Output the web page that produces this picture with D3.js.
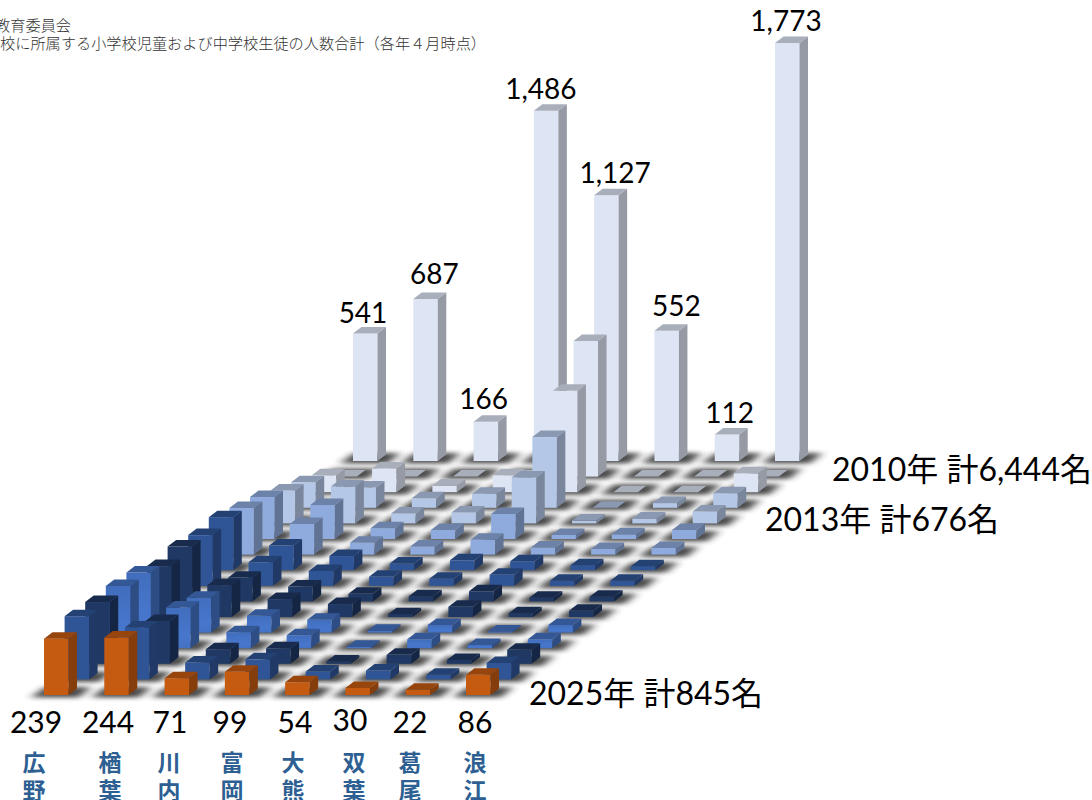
<!DOCTYPE html>
<html>
<head>
<meta charset="utf-8">
<script src="https://cdn.jsdelivr.net/npm/d3@7"></script>
<style>
    html, body { margin: 0; padding: 0; background: #fff; overflow: hidden; }
    svg { display: block; font-family: Lato, "Noto Sans CJK JP", sans-serif; }
</style>
</head>
<body>
<svg id="chart" width="1092" height="800"></svg>
<script>
// towns (columns) and years (rows, back to front)
const towns = ["広野", "楢葉", "川内", "富岡", "大熊", "双葉", "葛尾", "浪江"];
const years = [2010, 2011, 2012, 2013, 2014, 2015, 2016, 2017, 2018, 2019, 2020, 2021, 2022, 2023, 2024, 2025];

const y2010 = [541, 687, 166, 1486, 1127, 552, 112, 1773];
const y2011 = [0, 0, 0, 0, 575, 0, 0, 0];
const y2012 = [72, 100, 28, 72, 430, 0, 0, 80];
const y2013 = [108, 86, 40, 60, 300, 0, 20, 62];
const y2014 = [140, 156, 42, 46, 195, 12, 21, 50];
const y2015 = [178, 144, 46, 38, 106, 17, 20, 38];
const y2016 = [198, 130, 50, 34, 63, 30, 24, 28];
const y2017 = [225, 105, 60, 28, 42, 38, 21, 17];
const y2018 = [215, 100, 63, 38, 30, 47, 21, 21];
const y2019 = [233, 100, 63, 32, 22, 43, 16, 20];
const y2020 = [216, 135, 76, 55, 12, 44, 16, 26];
const y2021 = [255, 148, 72, 55, 8, 32, 5, 32];
const y2022 = [264, 173, 68, 55, 6, 38, 14, 38];
const y2023 = [262, 182, 62, 66, 10, 38, 16, 60];
const y2024 = [268, 220, 72, 85, 34, 38, 20, 70];
const y2025 = [239, 244, 71, 99, 54, 30, 22, 86];

const series = [y2010, y2011, y2012, y2013, y2014, y2015, y2016, y2017,
                y2018, y2019, y2020, y2021, y2022, y2023, y2024, y2025];

const rowColors = ["#DDE4F4", "#DDE4F4", "#DDE4F4", "#B4C7E7", "#B4C7E7", "#8FAADC", "#8FAADC", "#2F5597",
                   "#2F5597", "#1F3864", "#1F3864", "#4472C4", "#4472C4", "#1F3864", "#2F5597", "#C55A11"];

const totalLabels = [
    { year: 2010, text: "2010年 計6,444名", x: 832, y: 470 },
    { year: 2013, text: "2013年 計676名", x: 765, y: 520 },
    { year: 2025, text: "2025年 計845名", x: 529, y: 694 }
];

// hand placed label positions in the original
const backLabelDx = [10, 21, 10, 7, 21, 22, 15, 11];
const backLabelDy = [2, -3, -1, 0, 0, -3, 0, 0];
const frontLabelX = [36, 108, 170, 230, 295, 350, 410, 475];
const frontLabelDy = [0, 0, 0, 0, 0, -2, 0, 0];
const nameLabelX = [34, 110, 169, 232, 293, 354, 410, 475];

const svg = d3.select("#chart");

// projection of the oblique 3D view
const colX = d3.scaleLinear().domain([0, 7]).range([353, 775]);
const rowShift = d3.scaleLinear().domain([0, 15]).range([0, -309]);
const rowY = d3.scaleLinear().domain([0, 15]).range([461, 695]);
const barH = d3.scaleLinear().domain([0, 1773]).range([0, 418]);

const barW = 24.5, depthX = 8.5, depthY = 6.5;

const defs = svg.append("defs");
defs.append("filter")
    .attr("id", "soft")
    .attr("x", "-40%").attr("y", "-120%")
    .attr("width", "180%").attr("height", "340%")
    .append("feGaussianBlur")
    .attr("stdDeviation", "5 2.2");

// only the bright blue rows have a visible gradient on the front
const bright = d3.rgb("#4472C4");
const grad = defs.append("linearGradient")
    .attr("id", "front-bright")
    .attr("x1", 0).attr("y1", 0).attr("x2", 0).attr("y2", 1);
grad.append("stop").attr("offset", "0%").attr("stop-color", bright.darker(0.12).formatHex());
grad.append("stop").attr("offset", "70%").attr("stop-color", bright.brighter(0.12).formatHex());
grad.append("stop").attr("offset", "100%").attr("stop-color", bright.formatHex());

const poly = pts => "M" + pts.map(p => p.join(",")).join("L") + "Z";

// back rows first so the front ones cover them
const rows = svg.append("g");
series.forEach((values, r) => {
    const g = rows.append("g").attr("class", "row-" + years[r]);
    const base = d3.rgb(rowColors[r]);
    const frontFill = rowColors[r] === "#4472C4" ? "url(#front-bright)" : base.formatHex();
    const topFill = base.darker(0.75).formatHex();
    const sideFill = base.darker(1.1).formatHex();

    values.forEach((v, c) => {
        const x = colX(c) + rowShift(r);
        const y = rowY(r);
        const h = barH(v);

        // soft shadow lying on the floor
        g.append("path")
            .attr("d", poly([[x - 13, y + 2.5], [x + 35, y + 2.5], [x + 47, y - 8], [x + 1, y - 8]]))
            .attr("fill", "#2a2a2a")
            .attr("opacity", 0.85)
            .attr("filter", "url(#soft)");

        if (h > 0) {
            g.append("rect")
                .attr("x", x).attr("y", y - h)
                .attr("width", barW).attr("height", h)
                .attr("fill", frontFill);
            g.append("path")
                .attr("d", poly([[x + barW, y - h], [x + barW + depthX, y - h - depthY], [x + barW + depthX, y - depthY], [x + barW, y]]))
                .attr("fill", sideFill);
        }
        g.append("path")
            .attr("d", poly([[x, y - h], [x + barW, y - h], [x + barW + depthX, y - h - depthY], [x + depthX, y - h - depthY]]))
            .attr("fill", topFill);
    });
});

// values over the 2010 row
svg.append("g").selectAll("text")
    .data(y2010)
    .join("text")
    .attr("x", (d, i) => colX(i) + backLabelDx[i])
    .attr("y", (d, i) => rowY(0) - barH(d) - 12 + backLabelDy[i])
    .attr("text-anchor", "middle")
    .attr("font-size", 28)
    .attr("fill", "#000")
    .text(d => d3.format(",")(d));

// values under the 2025 row
svg.append("g").selectAll("text")
    .data(y2025)
    .join("text")
    .attr("x", (d, i) => frontLabelX[i])
    .attr("y", (d, i) => 733 + frontLabelDy[i])
    .attr("text-anchor", "middle")
    .attr("font-size", 30)
    .attr("fill", "#000")
    .text(d => d);

// town names, one character per line
towns.forEach((name, i) => {
    Array.from(name).forEach((ch, j) => {
        svg.append("text")
            .attr("x", nameLabelX[i])
            .attr("y", 771 + j * 28)
            .attr("text-anchor", "middle")
            .attr("font-size", 23)
            .attr("font-weight", 700)
            .attr("fill", "#2E5F92")
            .text(ch);
    });
});

// yearly totals
svg.append("g").selectAll("text")
    .data(totalLabels)
    .join("text")
    .attr("x", d => d.x)
    .attr("y", d => d.y + 11)
    .attr("font-size", 32)
    .attr("fill", "#000")
    .text(d => d.text);

// source and note, cut at the left edge as in the original
const notes = [
    { text: "教育委員会", x: 71, y: 31 },
    { text: "校に所属する小学校児童および中学校生徒の人数合計（各年４月時点）", x: 486, y: 49 }
];
svg.append("g").selectAll("text")
    .data(notes)
    .join("text")
    .attr("x", d => d.x)
    .attr("y", d => d.y)
    .attr("text-anchor", "end")
    .attr("font-size", 15.2)
    .attr("font-weight", 300)
    .attr("fill", "#333")
    .text(d => d.text);
</script>
</body>
</html>
